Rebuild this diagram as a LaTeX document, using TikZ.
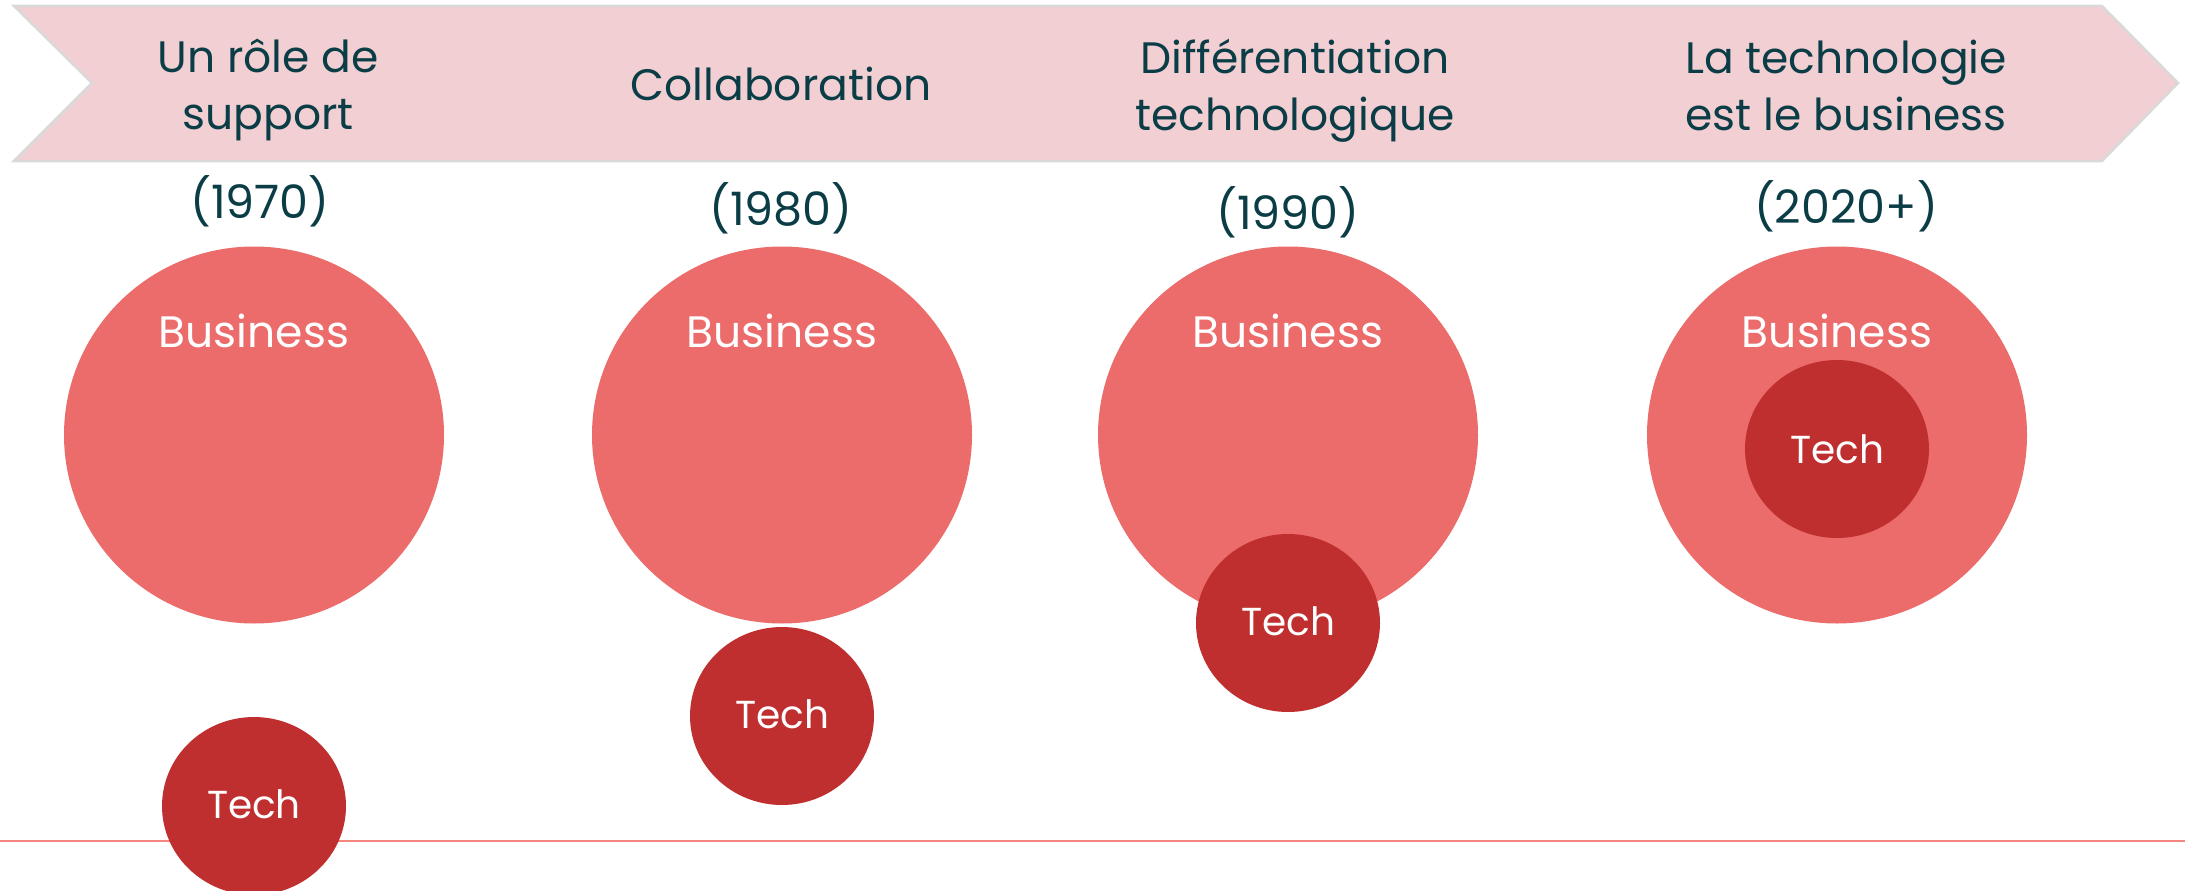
\documentclass[tikz,border=0pt]{standalone}
\usepackage{fontspec}
\setmainfont{Poppins}
\usetikzlibrary{shapes.geometric}
\definecolor{banner}{HTML}{F2CFD2}
\definecolor{bannerline}{HTML}{D9D9D9}
\definecolor{ink}{HTML}{0B3D47}
\definecolor{biz}{HTML}{EC6B6B}
\definecolor{tech}{HTML}{C02F2F}
\definecolor{lineRed}{HTML}{F4857F}
\tikzset{
  title/.style={text=ink, anchor=base, align=center, inner sep=0pt,
    font=\fontsize{44}{57}\selectfont},
  year/.style={text=ink, anchor=base, inner sep=0pt, font=\fontsize{46}{55}\selectfont},
  bizcircle/.style={ellipse, fill=biz, minimum width=380pt, minimum height=377pt, inner sep=0pt},
  techcircle/.style={ellipse, fill=tech, minimum width=184pt, minimum height=178pt, inner sep=0pt},
  biztext/.style={text=white, anchor=base, inner sep=0pt, font=\fontsize{44}{55}\selectfont},
  techtext/.style={text=white, anchor=base, inner sep=0pt, font=\fontsize{39}{45}\selectfont},
  baseRule/.style={draw=lineRed, line width=2pt},
}
\begin{document}
\begin{tikzpicture}[x=1pt,y=-1pt]
\useasboundingbox (0,0) rectangle (2185,891);
% banner
\draw[fill=banner, draw=bannerline, line width=2.5pt]
  (14,6) -- (2102,6) -- (2178,83) -- (2102,161) -- (14,161) -- (92,83) -- cycle;
% base line
\coordinate (l0) at (0,841);
\coordinate (l1) at (2185,841);
\draw[baseRule] (l0) -- (l1);
% titles (anchor base = baseline of the last line)
\node[title] (t1) at (268,129) {Un rôle de\\support};
\node[title] (t2) at (781,100) {Collaboration};
\node[title] (t3) at (1295,130) {Différentiation\\technologique};
\node[title] (t4) at (1846,130) {La technologie\\est le business};
% years
\node[year] (y1) at (260,218) {(1970)};
\node[year] (y2) at (781,225) {(1980)};
\node[year] (y3) at (1288,229) {(1990)};
\node[year] (y4) at (1846,223) {(2020+)};
% business circles
\node[bizcircle] (b1) at (254,435) {};
\node[bizcircle] (b2) at (782,435) {};
\node[bizcircle] (b3) at (1288,435) {};
\node[bizcircle] (b4) at (1837,435) {};
\foreach \i/\x in {1/254,2/782,3/1288,4/1837}
  \node[biztext] (bt\i) at (\x,347) {Business};
% tech circles
\node[techcircle] (c1) at (254,806) {};
\node[techcircle] (c2) at (782,716) {};
\node[techcircle] (c3) at (1288,623) {};
\node[techcircle] (c4) at (1837,449) {};
\node[techtext] (tt1) at (254,818) {Tech};
\node[techtext] (tt2) at (782,728) {Tech};
\node[techtext] (tt3) at (1288,635) {Tech};
\node[techtext] (tt4) at (1837,463) {Tech};
\end{tikzpicture}
\end{document}
